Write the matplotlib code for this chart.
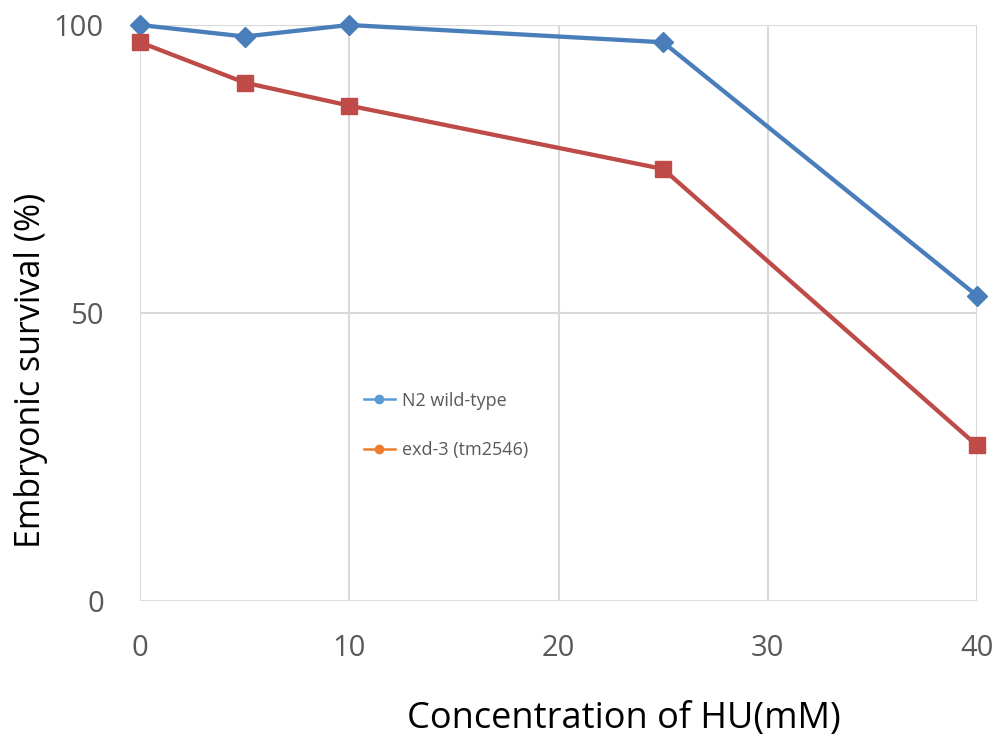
import matplotlib
matplotlib.use("Agg")
import matplotlib.pyplot as plt
from matplotlib.lines import Line2D
from matplotlib.patches import Rectangle

plt.rcParams['font.family'] = ['Open Sans', 'DejaVu Sans']

hu_mM = [0, 5, 10, 25, 40]
n2_wild_type = [100, 98, 100, 97, 53]
exd3_tm2546 = [97, 90, 86, 75, 27]
series_names = ["N2 wild-type", "exd-3 (tm2546)"]
x_ticks = [0, 10, 20, 30, 40]
y_ticks = [0, 50, 100]

fig = plt.figure(figsize=(10, 7.46), dpi=100)
ax = fig.add_axes([0.14, 0.1944, 0.837, 0.7721])

grid_c = '#d9d9d9'
for xv in x_ticks:
    ax.axvline(xv, color=grid_c, lw=1.5, zorder=0)
for yv in y_ticks[1:]:
    ax.axhline(yv, color=grid_c, lw=1.5, zorder=0)
ax.axhline(0, color=grid_c, lw=2, zorder=0)

ax.plot(hu_mM, n2_wild_type, color='#4a7ebb', lw=3.1, marker='D', ms=10,
        zorder=3, clip_on=False)
ax.plot(hu_mM, exd3_tm2546, color='#be4b48', lw=3.1, marker='s', ms=11.5,
        zorder=3, clip_on=False)

ax.set_xlim(0, 40)
ax.set_ylim(0, 100)
ax.set_xticks(x_ticks)
ax.set_yticks(y_ticks)
for s in ax.spines.values():
    s.set_visible(False)
ax.tick_params(length=0, labelsize=21, colors='#595959')
ax.tick_params(axis='x', pad=24)
ax.tick_params(axis='y', pad=26)

fig.text(0.624, 0.036, "Concentration of HU(mM)", fontsize=26, color='black',
         ha='center', va='center')
fig.text(0.031, 1 - 370 / 746, "Embryonic survival (%)", fontsize=24.5,
         color='black', ha='center', va='center', rotation=90)

# white legend background
ax.add_patch(Rectangle((0.2525, 0.181), 0.246, 0.217, transform=ax.transAxes,
                       facecolor='white', edgecolor='none', zorder=1))
handles = [Line2D([], [], color='#5b9bd5', lw=1.8, marker='o', ms=6),
           Line2D([], [], color='#ed7d31', lw=1.8, marker='o', ms=6)]
leg = ax.legend(handles, series_names, loc='upper left',
                bbox_to_anchor=(0.259, 0.376), frameon=False, fontsize=13,
                labelspacing=1.75, handlelength=1.7, handletextpad=0.42,
                borderaxespad=0)
for t in leg.get_texts():
    t.set_color('#595959')

fig.savefig("out.png", dpi=100)
